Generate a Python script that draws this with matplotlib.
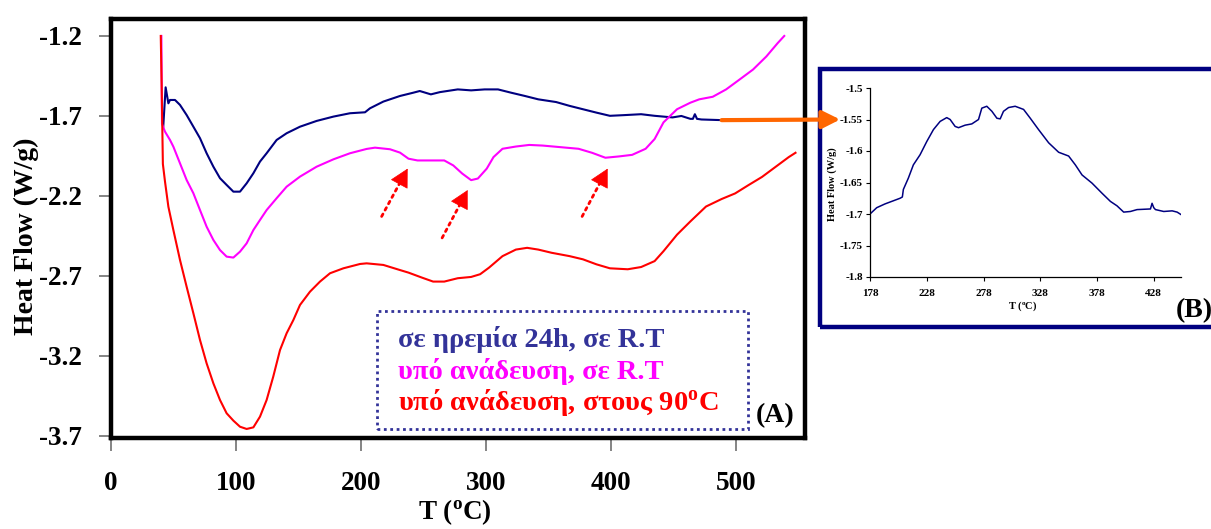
import matplotlib
matplotlib.use('Agg')
import matplotlib.pyplot as plt
from matplotlib.patches import Rectangle, ConnectionPatch

plt.rcParams['font.family'] = ['Liberation Serif', 'DejaVu Serif']
plt.rcParams['font.weight'] = 'bold'
plt.rcParams['mathtext.fontset'] = 'custom'
plt.rcParams['mathtext.rm'] = 'Liberation Serif:bold'
plt.rcParams['mathtext.bf'] = 'Liberation Serif:bold'
plt.rcParams['mathtext.it'] = 'Liberation Serif:bold'

# ---------------- data (main chart A) ----------------
blue_x = [41.8, 43.7, 45.9, 47.2, 51.2, 55.2, 60.5, 65.9, 71.2, 76.5, 81.9, 87.2, 92.5, 97.9,
          103.2, 108.5, 113.9, 119.2, 124.5, 132.5, 140.5, 151.2, 164.5, 177.9, 191.2, 203.2,
          207.2, 217.9, 231.2, 241.6, 247.0, 255.9, 263.1, 277.4, 288.1, 298.9, 309.6, 320.3,
          331.1, 341.8, 356.1, 366.9, 377.6, 388.3, 399.1, 409.8, 424.1, 434.9, 449.2, 456.3,
          463.5, 465.5, 467.1, 468.8, 472.4, 488.5]
blue_y = [-1.767, -1.521, -1.621, -1.600, -1.600, -1.631, -1.694, -1.767, -1.839, -1.933, -2.017,
          -2.089, -2.131, -2.173, -2.173, -2.121, -2.058, -1.985, -1.933, -1.850, -1.808, -1.767,
          -1.731, -1.704, -1.683, -1.677, -1.652, -1.610, -1.575, -1.555, -1.544, -1.565, -1.551,
          -1.534, -1.540, -1.534, -1.534, -1.555, -1.575, -1.596, -1.613, -1.637, -1.658, -1.679,
          -1.699, -1.695, -1.689, -1.699, -1.709, -1.700, -1.718, -1.718, -1.689, -1.718, -1.722,
          -1.726]

mag_x = [40.3, 40.8, 43.2, 47.2, 49.9, 55.2, 60.5, 65.9, 71.2, 76.5, 81.9, 87.2, 92.5, 97.9,
         103.2, 108.5, 113.9, 119.2, 124.5, 132.5, 140.5, 151.2, 164.5, 177.9, 191.2, 204.5,
         211.2, 223.2, 231.2, 238.0, 245.2, 266.6, 273.8, 281.0, 288.1, 293.5, 300.6, 306.0,
         313.2, 323.9, 334.6, 345.4, 359.7, 374.0, 384.8, 395.5, 406.2, 416.9, 427.7, 434.9,
         442.0, 452.8, 463.5, 470.6, 481.4, 492.1, 502.9, 513.6, 524.3, 533.3, 538.6]
mag_y = [-1.2, -1.75, -1.798, -1.850, -1.892, -1.996, -2.100, -2.183, -2.288, -2.392, -2.475,
         -2.538, -2.579, -2.585, -2.548, -2.496, -2.413, -2.350, -2.288, -2.214, -2.142, -2.079,
         -2.017, -1.971, -1.933, -1.906, -1.898, -1.908, -1.929, -1.967, -1.978, -1.978, -2.009,
         -2.060, -2.101, -2.091, -2.029, -1.957, -1.905, -1.891, -1.881, -1.885, -1.895, -1.905,
         -1.930, -1.961, -1.953, -1.943, -1.905, -1.844, -1.740, -1.658, -1.617, -1.596, -1.580,
         -1.534, -1.472, -1.410, -1.328, -1.245, -1.200]

red_x = [39.8, 40.5, 41.5, 43.2, 45.9, 49.9, 55.2, 60.5, 65.9, 71.2, 76.5, 81.9, 87.2, 92.5,
         97.9, 103.2, 108.5, 113.9, 119.2, 124.5, 129.8, 135.2, 140.5, 145.9, 151.2, 159.2,
         167.2, 175.2, 185.9, 199.2, 204.5, 217.9, 231.2, 238.0, 248.7, 257.7, 266.6, 277.4,
         288.1, 295.3, 302.4, 313.2, 323.9, 332.9, 341.8, 352.5, 366.9, 377.6, 388.3, 399.1,
         413.4, 424.1, 434.9, 442.0, 452.8, 463.5, 476.0, 488.5, 499.3, 510.0, 520.8, 531.5,
         542.2, 547.6]
red_y = [-1.2, -1.5, -2.0, -2.110, -2.267, -2.413, -2.600, -2.767, -2.933, -3.100, -3.246,
         -3.371, -3.475, -3.558, -3.604, -3.642, -3.656, -3.646, -3.579, -3.475, -3.329, -3.163,
         -3.058, -2.975, -2.881, -2.798, -2.735, -2.683, -2.652, -2.625, -2.621, -2.631, -2.663,
         -2.679, -2.710, -2.735, -2.735, -2.714, -2.706, -2.689, -2.648, -2.576, -2.535, -2.524,
         -2.535, -2.555, -2.576, -2.596, -2.627, -2.652, -2.658, -2.644, -2.607, -2.545, -2.442,
         -2.359, -2.266, -2.219, -2.184, -2.132, -2.081, -2.019, -1.957, -1.930]

main_xticks = [0, 100, 200, 300, 400, 500]
main_yticks = [-1.2, -1.7, -2.2, -2.7, -3.2, -3.7]
main_yticklabels = ['-1.2', '-1.7', '-2.2', '-2.7', '-3.2', '-3.7']

legend_labels = ['σε ηρεμία 24h, σε R.T',
                 'υπό ανάδευση, σε R.T',
                 r'υπό ανάδευση, στους 90$^{\mathrm{o}}$C']
legend_colors = ['#333399', '#FF00FF', '#FF0000']

# arrows marking the small peaks (tail, tip)
peak_arrows = [((216.5, -2.328), (237.3, -2.029)),
               ((264.9, -2.462), (285.3, -2.163)),
               ((376.9, -2.328), (397.3, -2.029))]

# ---------------- data (inset B) ----------------
ins_x = [178.0, 183.9, 191.2, 198.6, 204.5, 206.5, 207.4, 211.8, 216.2, 222.1, 228.0, 233.9,
         239.8, 245.6, 248.6, 253.0, 256.0, 261.8, 267.7, 273.6, 276.5, 280.9, 285.4, 289.8,
         292.7, 295.6, 300.1, 305.9, 313.3, 319.2, 326.5, 335.4, 344.2, 353.0, 358.9, 364.8,
         373.6, 382.4, 389.8, 395.6, 401.5, 407.4, 413.3, 425.1, 426.5, 428.0, 429.5, 436.8,
         444.2, 448.6, 452.1]
ins_y = [-1.700, -1.690, -1.684, -1.679, -1.675, -1.673, -1.661, -1.643, -1.622, -1.606, -1.585,
         -1.566, -1.553, -1.547, -1.550, -1.561, -1.563, -1.559, -1.557, -1.550, -1.532, -1.529,
         -1.537, -1.548, -1.549, -1.537, -1.531, -1.529, -1.534, -1.548, -1.566, -1.587, -1.602,
         -1.608, -1.622, -1.638, -1.651, -1.667, -1.680, -1.687, -1.697, -1.696, -1.693, -1.692,
         -1.683, -1.690, -1.693, -1.696, -1.695, -1.697, -1.701]
ins_xticks = [178, 228, 278, 328, 378, 428]
ins_yticks = [-1.5, -1.55, -1.6, -1.65, -1.7, -1.75, -1.8]
ins_yticklabels = ['-1.5', '-1.55', '-1.6', '-1.65', '-1.7', '-1.75', '-1.8']

# ---------------- figure ----------------
W, H = 1211, 529
fig = plt.figure(figsize=(W / 100, H / 100), dpi=100)
fig.patch.set_facecolor('white')


def fr(l, t, r, b):
    return [l / W, 1 - b / H, (r - l) / W, (b - t) / H]


ax = fig.add_axes(fr(111, 19, 805, 438))
ax.plot(blue_x, blue_y, color='#000080', lw=1.5)
ax.plot(mag_x, mag_y, color='#FF00FF', lw=1.5)
ax.plot(red_x, red_y, color='#FF0000', lw=1.5)
ax.set_xlim(0, 555.2)
ax.set_ylim(-3.7125, -1.094)
ax.set_xticks(main_xticks)
ax.set_xticklabels([str(v) for v in main_xticks])
ax.set_yticks(main_yticks)
ax.set_yticklabels(main_yticklabels)
for s in ax.spines.values():
    s.set_linewidth(3.2)
    s.set_color('black')
ax.tick_params(axis='both', direction='out', length=9, width=1.2, color='#707070',
               labelsize=19.5)
ax.tick_params(axis='x', pad=15)
ax.tick_params(axis='y', pad=12)
for lab in ax.get_xticklabels() + ax.get_yticklabels():
    lab.set_fontweight('bold')

for (tail, tip) in peak_arrows:
    # dotted shaft
    ax.annotate('', xy=tip, xytext=tail,
                arrowprops=dict(arrowstyle='-', color='#FF0000', lw=2,
                                linestyle=(0, (1, 1.6)), shrinkA=0, shrinkB=8))
    # solid head
    hx = tip[0] - (tip[0] - tail[0]) * 0.05
    hy = tip[1] - (tip[1] - tail[1]) * 0.05
    ax.annotate('', xy=tip, xytext=(hx, hy),
                arrowprops=dict(arrowstyle='-|>,head_length=0.75,head_width=0.4',
                                color='#FF0000', lw=0.5, mutation_scale=16,
                                shrinkA=0, shrinkB=0))

# legend box
ax.add_patch(Rectangle((0.383, 0.0215), 0.918 - 0.383, 0.303 - 0.0215, transform=ax.transAxes,
                       fill=False, ec='#333399', lw=2, ls=(0, (1, 1.3)), zorder=5))
for lab, col, yy in zip(legend_labels, legend_colors, [0.236, 0.158, 0.084]):
    ax.text(0.4135, yy, lab, color=col, fontsize=20.5, fontweight='bold',
            transform=ax.transAxes, ha='left', va='center')
ax.text(0.957, 0.0525, '(A)', fontsize=20, fontweight='bold', transform=ax.transAxes,
        ha='center', va='center')

fig.text(26 / W, 1 - 236 / H, 'Heat Flow (W/g)', rotation=90, fontsize=20, fontweight='bold',
         ha='center', va='center')
fig.text(455 / W, 2 / H, r'T ($^{\mathrm{o}}$C)', fontsize=19.5, fontweight='bold',
         ha='center', va='bottom')

# ---------------- inset ----------------
fig.patches.append(Rectangle((820 / W, 1 - 327 / H), (1240 - 820) / W, (327 - 69) / H,
                             transform=fig.transFigure, fill=False,
                             ec='#000080', lw=3.2, zorder=1))
ax2 = fig.add_axes(fr(870, 88, 1181, 277))
ax2.patch.set_alpha(0)
ax2.set_zorder(3)
ax2.plot(ins_x, ins_y, color='#000080', lw=1.1)
ax2.set_xlim(178, 452)
ax2.set_ylim(-1.8, -1.5)
ax2.set_xticks(ins_xticks)
ax2.set_xticklabels([str(v) for v in ins_xticks])
ax2.set_yticks(ins_yticks)
ax2.set_yticklabels(ins_yticklabels)
ax2.spines['top'].set_visible(False)
ax2.spines['right'].set_visible(False)
for s in ['left', 'bottom']:
    ax2.spines[s].set_linewidth(0.9)
ax2.tick_params(axis='both', direction='out', length=3, width=0.8, labelsize=8)
ax2.tick_params(axis='x', pad=6)
ax2.tick_params(axis='y', pad=2)
for lab in ax2.get_xticklabels() + ax2.get_yticklabels():
    lab.set_fontweight('bold')
fig.text(832 / W, 1 - 184 / H, 'Heat Flow (W/g)', rotation=90, fontsize=7.5, fontweight='bold',
         ha='center', va='center')
fig.text(1023 / W, 1 - 306 / H, r'T ($^{\mathrm{o}}$C)', fontsize=7.5, fontweight='bold',
         ha='center', va='center')
fig.text(1176 / W, 1 - 311 / H, '(B)', fontsize=20, fontweight='bold', ha='left', va='center')

con = ConnectionPatch(xyA=(blue_x[-1], blue_y[-1]), coordsA=ax.transData,
                      xyB=(-0.096, -1.55), coordsB=ax2.get_yaxis_transform(),
                      arrowstyle='-|>,head_length=0.6,head_width=0.3', mutation_scale=18,
                      color='#FF6600', lw=3, shrinkA=0, shrinkB=0, zorder=10)
fig.add_artist(con)

fig.savefig('out.png', dpi=100)
